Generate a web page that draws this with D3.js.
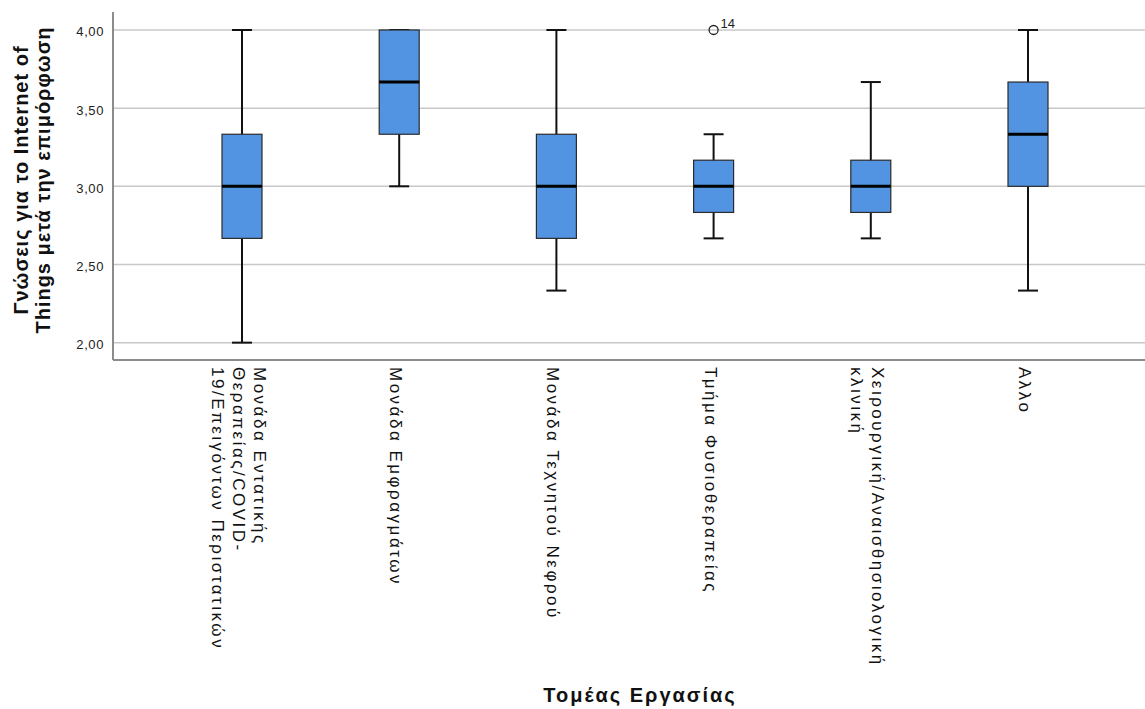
<!DOCTYPE html>
<html>
<head>
<meta charset="utf-8">
<script src="https://cdn.jsdelivr.net/npm/d3@7"></script>
<style>
  body { margin: 0; background: #fff; }
  svg { display: block; font-family: "Liberation Sans", Arial, sans-serif; }
</style>
</head>
<body>
<svg id="chart" width="1145" height="709"></svg>
<script>
// data
const categories = [
  ["Μονάδα Εντατικής", "Θεραπείας/COVID-", "19/Επειγόντων Περιστατικών"],
  ["Μονάδα Εμφραγμάτων"],
  ["Μονάδα Τεχνητού Νεφρού"],
  ["Τμήμα Φυσιοθεραπείας"],
  ["Χειρουργική/Αναισθησιολογική", "κλινική"],
  ["Αλλο"]
];
const mins    = [2.00, 3.00, 2.333, 2.667, 2.667, 2.333];
const q1s     = [2.667, 3.333, 2.667, 2.833, 2.833, 3.00];
const medians = [3.00, 3.667, 3.00, 3.00, 3.00, 3.333];
const q3s     = [3.333, 4.00, 3.333, 3.167, 3.167, 3.667];
const maxs    = [4.00, 4.00, 4.00, 3.333, 3.667, 4.00];
const outliers = [{cat: 3, value: 4.00, label: "14"}];
const yTicks = [2.0, 2.5, 3.0, 3.5, 4.0];

const svg = d3.select('#chart');
const plotL = 113, plotR = 1145, plotT = 12, plotB = 360;

const keys = categories.map((c, i) => i);
const x = d3.scalePoint().domain(keys).range([242, 1028]);
const y = d3.scaleLinear().domain([1.889, 4.115]).range([plotB, plotT]);

const fmt = v => v.toFixed(2).replace('.', ',');

// gridlines
svg.append('g')
  .selectAll('line')
  .data(yTicks)
  .enter().append('line')
  .attr('x1', plotL).attr('x2', plotR)
  .attr('y1', d => y(d)).attr('y2', d => y(d))
  .attr('stroke', '#c8c8c8').attr('stroke-width', 1.5);

// y axis
const yAxis = svg.append('g')
  .attr('transform', `translate(${plotL},0)`)
  .call(d3.axisLeft(y).tickValues(yTicks).tickFormat(fmt).tickSize(0).tickPadding(9));
yAxis.select('.domain').remove();
yAxis.selectAll('text').attr('font-size', 13).attr('letter-spacing', 0.6).attr('fill', '#222')
  .attr('dy', '0.45em')
  .attr('font-family', '"Liberation Sans", Arial, sans-serif');

// axis lines
svg.append('line').attr('x1', plotL).attr('x2', plotL).attr('y1', plotT).attr('y2', plotB)
  .attr('stroke', '#8c8c8c').attr('stroke-width', 2);
svg.append('line').attr('x1', plotL).attr('x2', plotR).attr('y1', plotB).attr('y2', plotB)
  .attr('stroke', '#8c8c8c').attr('stroke-width', 2);

// boxes
const boxW = 40, capW = 20;
const g = svg.append('g').selectAll('g').data(keys).enter().append('g');

g.append('line') // whisker
  .attr('x1', i => x(i)).attr('x2', i => x(i))
  .attr('y1', i => y(mins[i])).attr('y2', i => y(maxs[i]))
  .attr('stroke', '#111').attr('stroke-width', 2);
g.append('line')
  .attr('x1', i => x(i) - capW / 2).attr('x2', i => x(i) + capW / 2)
  .attr('y1', i => y(mins[i])).attr('y2', i => y(mins[i]))
  .attr('stroke', '#111').attr('stroke-width', 2);
g.append('line')
  .attr('x1', i => x(i) - capW / 2).attr('x2', i => x(i) + capW / 2)
  .attr('y1', i => y(maxs[i])).attr('y2', i => y(maxs[i]))
  .attr('stroke', '#111').attr('stroke-width', 2);
g.append('rect')
  .attr('x', i => x(i) - boxW / 2).attr('width', boxW)
  .attr('y', i => y(q3s[i])).attr('height', i => y(q1s[i]) - y(q3s[i]))
  .attr('fill', '#5294e2').attr('stroke', '#2b2b2b').attr('stroke-width', 1.2);
g.append('line')
  .attr('x1', i => x(i) - boxW / 2).attr('x2', i => x(i) + boxW / 2)
  .attr('y1', i => y(medians[i])).attr('y2', i => y(medians[i]))
  .attr('stroke', '#000').attr('stroke-width', 3);

// outliers
const og = svg.append('g').selectAll('g').data(outliers).enter().append('g');
og.append('circle')
  .attr('cx', d => x(d.cat)).attr('cy', d => y(d.value)).attr('r', 4.5)
  .attr('fill', 'none').attr('stroke', '#222').attr('stroke-width', 1.3);
og.append('text')
  .attr('x', d => x(d.cat) + 7).attr('y', d => y(d.value) - 2)
  .attr('font-size', 13).attr('fill', '#222')
  .text(d => d.label);

// category labels, rotated 90 degrees
const lineGap = 21;
const lab = svg.append('g').selectAll('g').data(keys).enter().append('g')
  .attr('transform', i => `translate(${x(i)},${plotB + 7})`);
lab.each(function(i) {
  const lines = categories[i];
  const n = lines.length;
  const t = d3.select(this).append('text')
    .attr('transform', 'rotate(90)')
    .attr('font-size', 17).attr('letter-spacing', 2.5).attr('fill', '#111');
  lines.forEach((s, k) => {
    t.append('tspan').attr('x', 0)
      .attr('y', (k - (n - 1) / 2) * lineGap + 9)
      .text(s);
  });
});

// axis titles
svg.append('text')
  .attr('x', 640).attr('y', 702)
  .attr('text-anchor', 'middle').attr('font-weight', 'bold').attr('font-size', 20)
  .attr('letter-spacing', 2).attr('fill', '#111')
  .text('Τομέας Εργασίας');

const yt = svg.append('text')
  .attr('transform', 'translate(0,180) rotate(-90)')
  .attr('text-anchor', 'middle').attr('font-weight', 'bold').attr('font-size', 20)
  .attr('letter-spacing', 1).attr('fill', '#111');
yt.append('tspan').attr('x', 0).attr('y', 28).text('Γνώσεις για το Internet of');
yt.append('tspan').attr('x', 0).attr('y', 50).text('Things μετά την επιμόρφωση');
</script>
</body>
</html>
